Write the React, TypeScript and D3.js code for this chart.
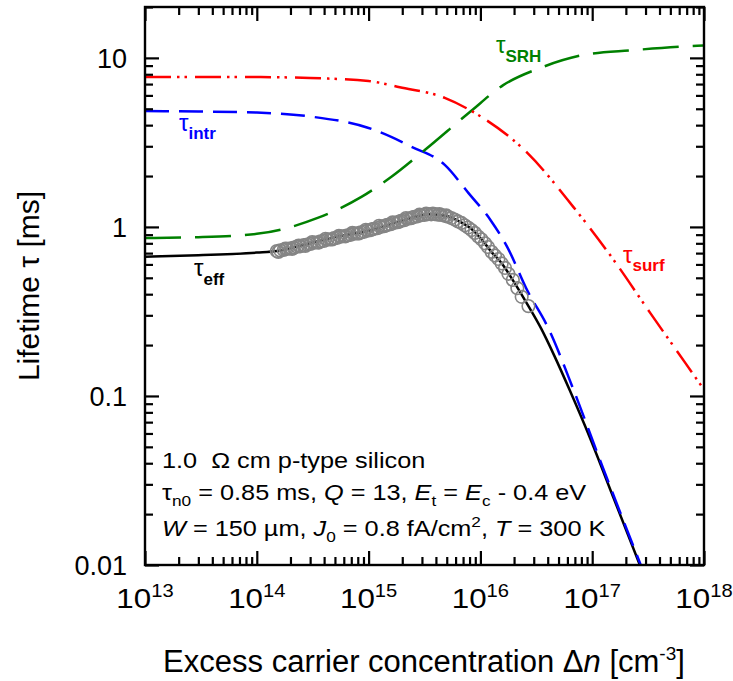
import React, { useEffect, useRef } from 'react';
import * as d3 from 'd3';

const W = 733;
const H = 681;
const PLOT = { left: 145, right: 704, top: 7, bottom: 565 };

const xDomain: [number, number] = [1e13, 1e18];
const yDomain: [number, number] = [0.01, 20];
const xTickExps = [13, 14, 15, 16, 17, 18];
const yTickValues = [0.01, 0.1, 1, 10];
const yTickLabels = ['0.01', '0.1', '1', '10'];

// tau_surf (red, dash-dot-dot)
const surfN = [1e13, 1e14, 3e14, 1e15, 1.9e15, 4.8e15, 8.1e15, 2.63e16, 6.8e16, 1.55e17, 3.3e17, 6.8e17, 1e18];
const surfTau = [7.7, 7.7, 7.6, 7.3, 6.7, 5.8, 4.9, 2.74, 1.31, 0.64, 0.31, 0.157, 0.109];

// tau_intr (blue, dashed)
const intrN = [1e13, 3e13, 1e14, 3e14, 1e15, 2.45e15, 4.8e15, 7.8e15, 1.23e16, 1.74e16, 2.63e16, 4.0e16, 6.8e16, 1.17e17, 2.75e17];
const intrTau = [4.85, 4.82, 4.75, 4.5, 3.85, 2.97, 2.33, 1.59, 1.1, 0.76, 0.42, 0.256, 0.109, 0.042, 0.0098];

// tau_SRH (green, long dashes)
const srhN = [1e13, 3e13, 1e14, 3.5e14, 8.7e14, 1.6e15, 3.2e15, 8.1e15, 1.6e16, 3.4e16, 8.3e16, 2.3e17, 8.7e17, 1e18];
const srhTau = [0.86, 0.87, 0.91, 1.13, 1.51, 1.98, 2.86, 4.8, 6.9, 8.7, 10.4, 11.1, 11.8, 11.85];

// tau_eff (black, solid)
const effN = [1e13, 3e13, 1e14, 1.52e14, 3e14, 5e14, 1e15, 2e15, 3.5e15, 5e15, 6.6e15, 8.5e15, 1e16, 1.26e16, 1.55e16, 1.95e16, 2.69e16, 3.5e16, 4.6e16, 6.3e16, 9.5e16, 1.55e17, 2.7e17];
const effTau = [0.667, 0.68, 0.705, 0.72, 0.8, 0.87, 0.95, 1.09, 1.19, 1.16, 1.07, 0.96, 0.86, 0.71, 0.61, 0.485, 0.34, 0.25, 0.172, 0.108, 0.057, 0.025, 0.0098];

// measured data (grey open circles)
const measN = [
  1.51e14, 1.62e14, 1.74e14, 1.86e14, 2.0e14, 2.14e14, 2.29e14, 2.45e14, 2.63e14, 2.82e14,
  3.02e14, 3.24e14, 3.47e14, 3.72e14, 3.98e14, 4.27e14, 4.57e14, 4.9e14, 5.25e14, 5.62e14,
  6.03e14, 6.46e14, 6.92e14, 7.41e14, 7.94e14, 8.51e14, 9.12e14, 9.77e14, 1.05e15, 1.12e15,
  1.2e15, 1.29e15, 1.38e15, 1.48e15, 1.58e15, 1.7e15, 1.82e15, 1.95e15, 2.09e15, 2.24e15,
  2.4e15, 2.57e15, 2.75e15, 2.95e15, 3.16e15, 3.39e15, 3.63e15, 3.89e15, 4.17e15, 4.47e15,
  4.79e15, 5.13e15, 5.5e15, 5.89e15, 6.31e15, 6.76e15, 7.24e15, 7.76e15, 8.32e15, 8.91e15,
  9.55e15, 1.02e16, 1.1e16, 1.17e16, 1.26e16, 1.35e16, 1.45e16, 1.55e16, 1.66e16, 1.78e16,
  1.95e16, 2.14e16, 2.34e16, 2.69e16,
  1.56e14, 1.8e14, 2.07e14, 2.37e14, 2.72e14, 3.13e14, 3.6e14, 4.12e14, 4.74e14, 5.43e14,
  6.24e14, 7.16e14, 8.22e14, 9.44e14, 1.08e15, 1.24e15, 1.43e15, 1.64e15, 1.88e15, 2.16e15,
  2.48e15, 2.85e15, 3.27e15, 3.76e15, 4.31e15, 4.95e15,
];
const measTau = [
  0.72, 0.726, 0.731, 0.742, 0.748, 0.754, 0.764, 0.768, 0.78, 0.787,
  0.793, 0.806, 0.81, 0.822, 0.826, 0.84, 0.845, 0.858, 0.862, 0.876,
  0.881, 0.893, 0.898, 0.912, 0.916, 0.93, 0.936, 0.95, 0.958, 0.975,
  0.984, 1.002, 1.01, 1.03, 1.037, 1.057, 1.066, 1.088, 1.097, 1.118,
  1.127, 1.148, 1.155, 1.172, 1.178, 1.19, 1.188, 1.192, 1.181, 1.176,
  1.163, 1.15, 1.128, 1.106, 1.078, 1.056, 1.022, 0.992, 0.958, 0.922,
  0.878, 0.845, 0.8, 0.76, 0.712, 0.678, 0.646, 0.608, 0.572, 0.528,
  0.486, 0.434, 0.386, 0.34,
  0.712, 0.744, 0.741, 0.776, 0.772, 0.814, 0.808, 0.85, 0.843, 0.885,
  0.88, 0.922, 0.915, 0.962, 0.97, 1.015, 1.02, 1.065, 1.075, 1.128,
  1.138, 1.182, 1.2, 1.2, 1.192, 1.17,
];

const FONT = "'Liberation Sans', Arial, sans-serif";

export default function App() {
  const axesRef = useRef<SVGGElement | null>(null);

  const x = d3.scaleLog().domain(xDomain).range([PLOT.left, PLOT.right]);
  const y = d3.scaleLog().domain(yDomain).range([PLOT.bottom, PLOT.top]);
  const line = d3
    .line<[number, number]>()
    .x((d) => x(d[0]))
    .y((d) => y(d[1]))
    .curve(d3.curveMonotoneX);
  const pts = (n: number[], t: number[]) => n.map((v, i) => [v, t[i]] as [number, number]);

  const xMajor = xTickExps.map((e) => Math.pow(10, e));
  const xMinor: number[] = [];
  for (let e = 13; e < 18; e++) for (let k = 2; k <= 9; k++) xMinor.push(k * Math.pow(10, e));
  const yMinor: number[] = [];
  for (let e = -2; e <= 1; e++)
    for (let k = 2; k <= 9; k++) {
      const v = k * Math.pow(10, e);
      if (v <= yDomain[1] + 1e-9) yMinor.push(v);
    }

  useEffect(() => {
    if (!axesRef.current) return;
    const g = d3.select(axesRef.current);
    g.selectAll('*').remove();
    const noLabel = () => '';
    const add = (axis: any, tx: number, ty: number) => {
      const a = g.append('g').attr('transform', `translate(${tx},${ty})`).call(axis);
      a.select('.domain').remove();
      a.selectAll('text').remove();
      a.selectAll('line').attr('stroke', '#000').attr('stroke-width', 2.2);
    };
    add(d3.axisBottom(x).tickValues(xMajor).tickSize(-14).tickFormat(noLabel), 0, PLOT.bottom);
    add(d3.axisBottom(x).tickValues(xMinor).tickSize(-8).tickFormat(noLabel), 0, PLOT.bottom);
    add(d3.axisTop(x).tickValues(xMajor).tickSize(-14).tickFormat(noLabel), 0, PLOT.top);
    add(d3.axisTop(x).tickValues(xMinor).tickSize(-8).tickFormat(noLabel), 0, PLOT.top);
    add(d3.axisLeft(y).tickValues(yTickValues).tickSize(-14).tickFormat(noLabel), PLOT.left, 0);
    add(d3.axisLeft(y).tickValues(yMinor).tickSize(-8).tickFormat(noLabel), PLOT.left, 0);
    add(d3.axisRight(y).tickValues(yTickValues).tickSize(-14).tickFormat(noLabel), PLOT.right, 0);
    add(d3.axisRight(y).tickValues(yMinor).tickSize(-8).tickFormat(noLabel), PLOT.right, 0);
  });

  return (
    <svg
      width={W}
      height={H}
      style={{ position: 'absolute', left: 0, top: 0, display: 'block', background: '#fff' }}
      fontFamily={FONT}
    >
      <defs>
        <clipPath id="plotclip">
          <rect x={PLOT.left} y={PLOT.top} width={PLOT.right - PLOT.left} height={PLOT.bottom - PLOT.top} />
        </clipPath>
      </defs>

      {/* curves */}
      <g clipPath="url(#plotclip)" fill="none" strokeWidth={2.5}>
        <path d={line(pts(effN, effTau)) || ''} stroke="#000" />
        <path d={line(pts(intrN, intrTau)) || ''} stroke="#0000ff" strokeDasharray="24,10" />
        <path d={line(pts(srhN, srhTau)) || ''} stroke="#008000" strokeDasharray="36,14" />
        <path d={line(pts(surfN, surfTau)) || ''} stroke="#ff0000" strokeDasharray="26,6,2.5,5,2.5,8" />
        <g stroke="#858585" strokeWidth={1.6} fill="none">
          {measN.map((v, i) => (
            <circle key={'c' + i} cx={x(v)} cy={y(measTau[i])} r={6.3} />
          ))}
        </g>
      </g>

      {/* ticks via d3 axes */}
      <g ref={axesRef} />

      {/* frame */}
      <rect
        x={PLOT.left}
        y={PLOT.top}
        width={PLOT.right - PLOT.left}
        height={PLOT.bottom - PLOT.top}
        fill="none"
        stroke="#000"
        strokeWidth={2.4}
      />

      {/* x tick labels */}
      {xTickExps.map((e, i) => (
        <g key={'xl' + i} transform={`translate(${x(Math.pow(10, e))},608) scale(1.12,1)`}>
          <text x={0} y={0} fontSize={28} textAnchor="middle" fill="#000">
            10
            <tspan dy={-11} fontSize={18}>
              {e}
            </tspan>
          </text>
        </g>
      ))}

      {/* y tick labels */}
      {yTickValues.map((v, i) => (
        <text key={'yl' + i} x={127} y={y(v) + 10} fontSize={27} textAnchor="end" fill="#000">
          {yTickLabels[i]}
        </text>
      ))}

      {/* axis titles */}
      <text x={424} y={672} fontSize={31} textAnchor="middle" fill="#000">
        Excess carrier concentration Δ<tspan fontStyle="italic">n</tspan> [cm
        <tspan dy={-12} fontSize={19}>
          -3
        </tspan>
        <tspan dy={12}>]</tspan>
      </text>
      <text transform="translate(39,286) rotate(-90)" fontSize={30} textAnchor="middle" fill="#000">
        Lifetime τ [ms]
      </text>

      {/* curve labels */}
      <text x={179} y={131} fontSize={24} fill="#0000ff">
        τ
        <tspan dy={8} fontSize={17} fontWeight="bold">
          intr
        </tspan>
      </text>
      <text x={496} y={53} fontSize={24} fill="#008000">
        τ
        <tspan dy={9} fontSize={17} fontWeight="bold">
          SRH
        </tspan>
      </text>
      <text x={194} y={276} fontSize={24} fill="#000">
        τ
        <tspan dy={9} fontSize={17} fontWeight="bold">
          eff
        </tspan>
      </text>
      <text x={623} y={263} fontSize={24} fill="#ff0000">
        τ
        <tspan dy={8} fontSize={17} fontWeight="bold">
          surf
        </tspan>
      </text>

      {/* annotation */}
      <g transform="translate(162,0) scale(1.15,1)" fontSize={22} fill="#000">
        <text x={0} y={468} style={{ whiteSpace: 'pre' }}>
          {'1.0  Ω cm p-type silicon'}
        </text>
        <text x={0} y={500} style={{ whiteSpace: 'pre' }}>
          τ<tspan dy={6} fontSize={15}>n0</tspan>
          <tspan dy={-6}>{' = 0.85 ms, '}</tspan>
          <tspan fontStyle="italic">Q</tspan>
          <tspan>{' = 13, '}</tspan>
          <tspan fontStyle="italic">E</tspan>
          <tspan dy={6} fontSize={15}>t</tspan>
          <tspan dy={-6}>{' = '}</tspan>
          <tspan fontStyle="italic">E</tspan>
          <tspan dy={6} fontSize={15}>c</tspan>
          <tspan dy={-6}>{' - 0.4 eV'}</tspan>
        </text>
        <text x={0} y={536} style={{ whiteSpace: 'pre' }}>
          <tspan fontStyle="italic">W</tspan>
          <tspan>{' = 150 µm, '}</tspan>
          <tspan fontStyle="italic">J</tspan>
          <tspan dy={6} fontSize={15}>0</tspan>
          <tspan dy={-6}>{' = 0.8 fA/cm'}</tspan>
          <tspan dy={-9} fontSize={15}>2</tspan>
          <tspan dy={9}>{', '}</tspan>
          <tspan fontStyle="italic">T</tspan>
          <tspan>{' = 300 K'}</tspan>
        </text>
      </g>
    </svg>
  );
}
